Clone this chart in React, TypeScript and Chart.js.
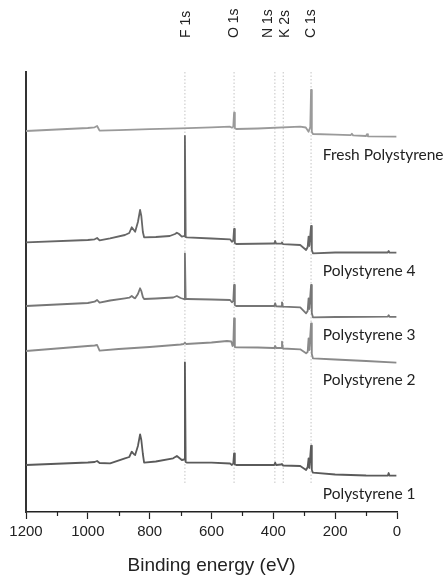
import { useEffect, useRef } from 'react';
import { Chart, registerables } from 'chart.js';

Chart.register(...registerables);

type P = [number, number];

// Binding energy (eV), stacked intensity (arb. units)
const freshPolystyrene: P[] = [
  [1200, 381], [1000, 384], [978, 384.7], [970, 386], [962, 381.3], [900, 381.8], [800, 382.8],
  [700, 383.6], [600, 384.6], [540, 385.3], [534, 384.3], [529.5, 385.5], [527, 399.3], [524.5, 384],
  [520, 383], [450, 383.5], [313, 385.3], [295, 384.5], [286, 380.3], [280.5, 385], [278, 422],
  [275.5, 380], [272, 378], [200, 377.3], [150, 376.8], [146, 378.3], [142, 376.6], [100, 376],
  [97, 377.8], [94, 375.7], [2, 375.3],
];

const polystyrene4: P[] = [
  [1200, 269.7], [1000, 272], [978, 272.7], [970, 274], [962, 271.7], [928, 273.7], [880, 277],
  [866, 279], [858, 284.7], [850, 281.5], [847, 280.3], [838, 290], [831, 302], [827, 296],
  [822, 280], [818, 274.7], [780, 275], [735, 276], [718, 278], [712, 279.3], [705, 278],
  [696, 275.3], [688.5, 276], [686, 376], [683.5, 275], [679, 274.7], [600, 273.5], [540, 272.7],
  [534, 270.3], [529.5, 271.5], [527, 283], [524.5, 269], [520, 268], [400, 268.5], [397, 268.5],
  [394, 271], [391, 268.3], [375, 268.3], [372, 269.7], [369, 267.8], [313, 267], [294, 262],
  [289, 265], [286, 275.3], [283.5, 266], [278, 286], [275.5, 262], [272, 258.7], [200, 259.5],
  [100, 259.5], [30, 259.5], [27, 261], [24, 259.3], [2, 259.3],
];

const polystyrene3: P[] = [
  [1200, 206], [1000, 209], [978, 210.3], [970, 212], [962, 209.3], [928, 211.5], [880, 213.7],
  [866, 214.3], [858, 216], [850, 214], [847, 213.7], [838, 218], [831, 223.7], [827, 221],
  [822, 215], [818, 213], [780, 213.5], [724, 214.5], [712, 216], [700, 214], [690, 213],
  [688.5, 213], [686, 258.7], [683.5, 213], [679, 213], [600, 212.5], [540, 212], [534, 209.7],
  [529.5, 211], [527, 227], [524.5, 207], [520, 206], [400, 206], [397, 206], [394, 208.7],
  [391, 205.7], [375, 205.5], [372, 209.7], [369, 205.3], [313, 204.7], [294, 198.7], [289, 201],
  [286, 213.7], [283.5, 203], [278, 227], [275.5, 199], [272, 194.7], [200, 195], [100, 195.2],
  [30, 195.3], [27, 196.7], [24, 195.2], [2, 195.2],
];

const polystyrene2: P[] = [
  [1200, 161], [1000, 166], [978, 166.5], [970, 167], [962, 161.3], [900, 163], [800, 165],
  [700, 167.5], [690, 168], [686, 169.3], [682, 168], [600, 169.5], [550, 171], [536, 170.5],
  [532, 166], [529.5, 167], [527, 193.7], [524.5, 165], [520, 164.7], [450, 164.5], [400, 164],
  [397, 164], [394, 166], [391, 164], [375, 164], [372, 170.3], [369, 163.5], [313, 162.7],
  [294, 158.7], [289, 160], [286, 173.7], [283.5, 162], [278, 188.7], [275.5, 158], [272, 153.7],
  [200, 152.5], [100, 151], [2, 149.3],
];

const polystyrene1: P[] = [
  [1200, 47], [1000, 49.5], [978, 50], [970, 51], [962, 49], [928, 48.7], [880, 53.7], [866, 55],
  [858, 60.3], [850, 57.5], [847, 57], [838, 66], [831, 77.7], [827, 72], [822, 58], [818, 49.3],
  [780, 50.5], [724, 53.7], [712, 56], [700, 53], [696, 52], [688.5, 52.5], [686, 149.7],
  [683.5, 50], [679, 49.3], [600, 49.3], [540, 48.5], [534, 47], [529.5, 48.5], [527, 58.7],
  [524.5, 47.5], [520, 47], [400, 47], [397, 47], [394, 49.3], [391, 47], [375, 47.5], [372, 48],
  [369, 46.5], [313, 46], [294, 42], [289, 45], [286, 53.7], [283.5, 44], [278, 66.3],
  [275.5, 42], [272, 39.3], [200, 37.5], [100, 36.5], [30, 36.3], [27, 39], [24, 36.3], [2, 36.3],
];

const seriesNames = ['Fresh Polystyrene', 'Polystyrene 4', 'Polystyrene 3', 'Polystyrene 2', 'Polystyrene 1'];
const seriesColors = ['#9a9a9a', '#666666', '#767676', '#8a8a8a', '#5a5a5a'];
const seriesLabelY = [357, 241, 177, 132, 18];
const seriesLabelX = 240;

const peakNames = ['F 1s', 'O 1s', 'N 1s', 'K 2s', 'C 1s'];
const peakEnergies = [686, 527, 395, 368, 278];
const peakLabelEnergies = [681, 527, 416, 362, 279];
const peakLineRange: [number, number] = [29, 440];
const peakLabelBase = 474;

const xTicks = [0, 200, 400, 600, 800, 1000, 1200];
const xMinorTicks = [100, 300, 500, 700, 900, 1100];

const annotations = {
  id: 'annotations',
  afterDraw(chart: any) {
    const { ctx, scales } = chart;
    const xs = scales.x;
    const ys = scales.y;
    ctx.save();
    // minor ticks
    ctx.strokeStyle = '#222';
    ctx.lineWidth = 1.2;
    const b = chart.chartArea.bottom;
    for (const v of xMinorTicks) {
      const px = Math.round(xs.getPixelForValue(v)) + 0.5;
      ctx.beginPath();
      ctx.moveTo(px, b);
      ctx.lineTo(px, b + 4);
      ctx.stroke();
    }
    // series labels
    ctx.fillStyle = '#222';
    ctx.font = '15.5px Lato';
    ctx.textBaseline = 'middle';
    ctx.textAlign = 'left';
    seriesNames.forEach((n, i) => {
      ctx.fillText(n, xs.getPixelForValue(seriesLabelX), ys.getPixelForValue(seriesLabelY[i]));
    });
    // peak labels
    ctx.font = '14px "Liberation Sans", Arial, sans-serif';
    peakNames.forEach((n, i) => {
      const px = xs.getPixelForValue(peakLabelEnergies[i]);
      const py = ys.getPixelForValue(peakLabelBase);
      ctx.save();
      ctx.translate(px, py);
      ctx.rotate(-Math.PI / 2);
      ctx.textAlign = 'left';
      ctx.textBaseline = 'middle';
      ctx.fillText(n, 0, 0);
      ctx.restore();
    });
    ctx.restore();
  },
};

export default function App() {
  const ref = useRef<HTMLCanvasElement | null>(null);
  useEffect(() => {
    document.body.style.margin = '0';
    const spectra = [freshPolystyrene, polystyrene4, polystyrene3, polystyrene2, polystyrene1];
    const datasets: any[] = spectra.map((s, i) => ({
      label: seriesNames[i],
      data: s.map(([x, y]) => ({ x, y })),
      borderColor: seriesColors[i],
      borderWidth: 1.8,
      pointRadius: 0,
      tension: 0,
      borderJoinStyle: 'round',
      fill: false,
    }));
    peakEnergies.forEach((e, i) => {
      datasets.push({
        label: peakNames[i],
        data: [{ x: e, y: peakLineRange[0] }, { x: e, y: peakLineRange[1] }],
        borderColor: '#c4c4c4',
        borderWidth: 1,
        borderDash: [1.5, 2],
        pointRadius: 0,
        fill: false,
      });
    });
    const chart = new Chart(ref.current as HTMLCanvasElement, {
      type: 'line',
      data: { datasets },
      options: {
        animation: false,
        responsive: true,
        maintainAspectRatio: false,
        layout: { padding: { left: 26, right: 51, top: 72, bottom: 0 } },
        plugins: { legend: { display: false }, tooltip: { enabled: false } },
        scales: {
          x: {
            type: 'linear',
            reverse: true,
            min: 0,
            max: 1200,
            afterBuildTicks: (s: any) => { s.ticks = xTicks.map((v) => ({ value: v })); },
            afterFit: (s: any) => { s.height = 69; },
            grid: { drawOnChartArea: false, drawTicks: true, tickLength: 7, tickColor: '#222', tickWidth: 1.2 },
            border: { display: true, color: '#222', width: 1.5 },
            ticks: {
              color: '#222',
              padding: 4,
              maxRotation: 0,
              callback: (v: any) => String(v),
              font: { family: '"Liberation Sans", Arial, sans-serif', size: 15 },
            },
            title: {
              display: true,
              text: 'Binding energy (eV)',
              color: '#222',
              font: { family: '"Liberation Sans", Arial, sans-serif', size: 19 },
              padding: { top: 0, bottom: 4 },
            },
          },
          y: {
            type: 'linear',
            min: 0,
            max: 440,
            afterFit: (s: any) => { s.width = 0; },
            grid: { display: false, drawTicks: false },
            border: { display: true, color: '#333', width: 2 },
            ticks: { display: false },
          },
        },
      },
      plugins: [annotations],
    });
    return () => chart.destroy();
  }, []);
  return (
    <div style={{ position: 'relative', width: '448px', height: '581px' }}>
      <canvas ref={ref} />
    </div>
  );
}
